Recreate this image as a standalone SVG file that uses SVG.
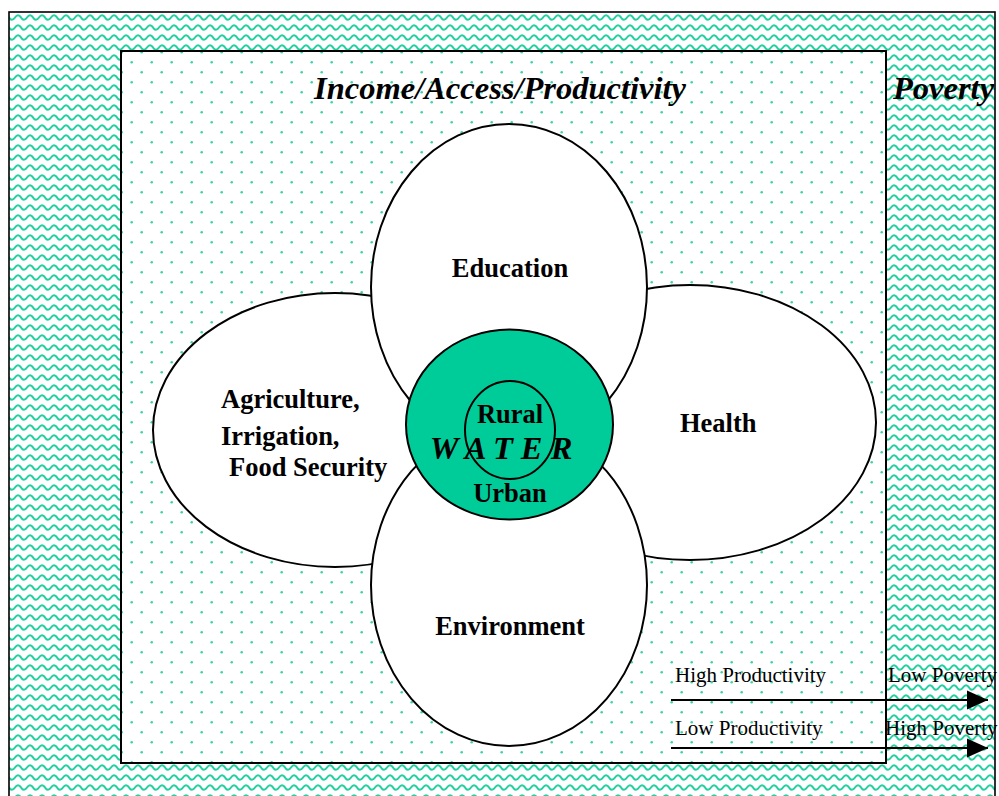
<svg xmlns="http://www.w3.org/2000/svg" width="999" height="796" viewBox="0 0 999 796">
  <defs>
    <!-- wavy hatch for the outer band -->
    <pattern id="waves" patternUnits="userSpaceOnUse" width="12" height="10" x="9" y="12">
      <path d="M-6 5.5 Q-3 1 0 5.5 T6 5.5 T12 5.5 T18 5.5" fill="none" stroke="#22d0a2" stroke-width="2"/>
    </pattern>
    <!-- staggered dot grid for the inner field -->
    <pattern id="dots" patternUnits="userSpaceOnUse" width="20" height="20" x="0" y="0">
      <circle cx="11.7" cy="2.3" r="1.3" fill="#3ad6aa"/>
      <circle cx="1.7" cy="12.3" r="1.3" fill="#3ad6aa"/>
    </pattern>
    <marker id="arrow" markerUnits="userSpaceOnUse" markerWidth="22" markerHeight="20" refX="21" refY="10" orient="auto">
      <path d="M0 0.5 L21 10 L0 19.5 Z" fill="#000"/>
    </marker>
    <style>
      .petal { fill: #fff; stroke: #000; stroke-width: 2; }
      .lbl { font-family: "Liberation Serif", "Times New Roman", serif; font-weight: bold; font-size: 26.5px; fill: #000; }
      .title { font-family: "Liberation Serif", "Times New Roman", serif; font-weight: bold; font-style: italic; font-size: 32.5px; fill: #000; }
      .small { font-family: "Liberation Serif", "Times New Roman", serif; font-size: 21px; fill: #000; }
      .flow { stroke: #000; stroke-width: 2; fill: none; }
    </style>
  </defs>

  <rect x="0" y="0" width="999" height="796" fill="#fff"/>

  <!-- outer band: poverty -->
  <g id="poverty-band">
    <rect x="9" y="12" width="986" height="800" fill="url(#waves)" stroke="#000" stroke-width="1.6"/>
    <text class="title" x="893" y="99">Poverty</text>
  </g>

  <!-- inner field: income / access / productivity -->
  <g id="income-field">
    <rect x="121" y="51" width="765" height="712" fill="#fff" stroke="#000" stroke-width="2"/>
    <rect x="122" y="52" width="763" height="710" fill="url(#dots)"/>
    <text class="title" x="500" y="99" text-anchor="middle">Income/Access/Productivity</text>
  </g>

  <g id="agriculture">
    <ellipse class="petal" cx="335" cy="430" rx="182" ry="137"/>
    <text class="lbl" x="221" y="408">Agriculture,</text>
    <text class="lbl" x="221" y="445">Irrigation,</text>
    <text class="lbl" x="229" y="476">Food Security</text>
  </g>

  <g id="health">
    <ellipse class="petal" cx="690" cy="422.5" rx="186" ry="137.5"/>
    <text class="lbl" x="680" y="432">Health</text>
  </g>

  <g id="education">
    <ellipse class="petal" cx="509" cy="287" rx="138" ry="163"/>
    <text class="lbl" x="510" y="277" text-anchor="middle">Education</text>
  </g>

  <g id="environment">
    <ellipse class="petal" cx="509" cy="585" rx="138" ry="161"/>
    <text class="lbl" x="510" y="635" text-anchor="middle">Environment</text>
  </g>

  <g id="water">
    <ellipse cx="509.5" cy="424.5" rx="103.5" ry="95" fill="#00cc99" stroke="#000" stroke-width="2"/>
    <ellipse cx="510" cy="430" rx="45" ry="49" fill="none" stroke="#000" stroke-width="2"/>
    <text class="lbl" x="510" y="423" text-anchor="middle">Rural</text>
    <text class="title" x="501" y="459" text-anchor="middle" font-size="30">W A T E R</text>
    <text class="lbl" x="510" y="502" text-anchor="middle">Urban</text>
  </g>

  <g id="connectors">
    <line class="flow" x1="671" y1="700" x2="988" y2="700" marker-end="url(#arrow)"/>
    <line class="flow" x1="671" y1="748" x2="988" y2="748" marker-end="url(#arrow)"/>
  </g>

  <g id="legend">
    <text class="small" x="675" y="682">High Productivity</text>
    <text class="small" x="888" y="682">Low Poverty</text>
    <text class="small" x="675" y="735">Low Productivity</text>
    <text class="small" x="885" y="735">High Poverty</text>
  </g>
</svg>
